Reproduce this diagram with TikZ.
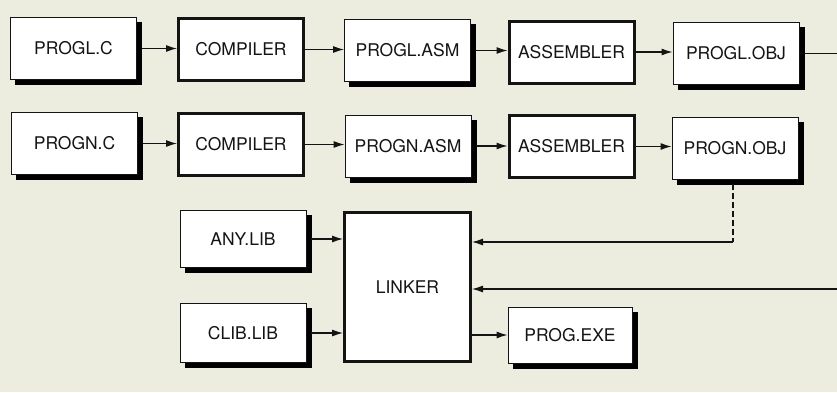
\documentclass[tikz,border=0pt]{standalone}
\usepackage{fontspec}
\setmainfont{TeX Gyre Heros}
\usetikzlibrary{positioning, arrows.meta}
\definecolor{paper}{RGB}{237,237,223}
\definecolor{ink}{RGB}{20,20,20}
\tikzset{
  boxsize/.style={minimum width=126pt, minimum height=62pt, inner sep=0pt},
  filebox/.style={boxsize, draw=ink, line width=0.9pt, fill=white, text=ink, font=\fontsize{17.5}{20}\selectfont},
  shadowbox/.style={boxsize, draw=black, line width=0.9pt, fill=black},
  toolbox/.style={boxsize, draw=ink, line width=3pt, fill=white, minimum width=125pt,
    text=ink, font=\fontsize{17.5}{20}\selectfont},
  link/.style={draw=ink, line width=1.1pt},
  flow/.style={link, -{Latex[length=11pt, width=7pt]}},
}
% file box with its shadow: [size options]{name}{x}{y}{text}
\newcommand{\filenode}[5][]{%
  \node[shadowbox, #1] (#2-sh) at (#3+5, #4+5) {};
  \node[filebox, #1] (#2) at (#3, #4) {#5};
}

\begin{document}
\begin{tikzpicture}[x=1pt, y=-1pt]

% ============================================================ canvas
\fill[paper] (0,0) rectangle (837,392);
\useasboundingbox (0,0) rectangle (837,392);

% ============================================================ row 1: PROGL
\filenode{srcl}{73.5}{48.5}{PROGL.C}
\node[toolbox] (compl) at (241, 49.5) {COMPILER};
\filenode{asml}{407.5}{50.5}{PROGL.ASM}
\node[toolbox] (asmbl) at (571.5, 52) {ASSEMBLER};
\filenode{objl}{736}{53.5}{PROGL.OBJ}

% ============================================================ row 2: PROGN
\filenode{srcn}{74.5}{143.5}{PROGN.C}
\node[toolbox] (compn) at (241, 144.5) {COMPILER};
\filenode{asmn}{408}{146}{PROGN.ASM}
\node[toolbox] (asmbn) at (571.5, 146.5) {ASSEMBLER};
\filenode{objn}{735}{148}{PROGN.OBJ}

% ============================================================ link stage
\filenode[minimum height=57pt]{anylib}{243}{239}{ANY.LIB}
\filenode[minimum height=59pt]{clib}{243}{333}{CLIB.LIB}
\node[toolbox, minimum width=126pt, minimum height=149pt] (linker) at (407.5, 287) {LINKER};
\filenode[minimum width=124pt, minimum height=56pt]{exe}{570}{335}{PROG.EXE}

% ============================================================ connectors
\draw[flow] (srcl-sh.east |- srcl.east) -- (srcl.east -| compl.west);
\draw[flow] (compl.east) -- (compl.east -| asml.west);
\draw[flow] (asml-sh.east |- asml.east) -- (asml.east -| asmbl.west);
\draw[flow] (asmbl.east) -- (asmbl.east -| objl.west);

\draw[flow] (srcn-sh.east |- srcn.east) -- (srcn.east -| compn.west);
\draw[flow] (compn.east) -- (compn.east -| asmn.west);
\draw[flow] (asmn-sh.east |- asmn.east) -- (asmn.east -| asmbn.west);
\draw[flow] (asmbn.east) -- (asmbn.east -| objn.west);

\draw[flow] (anylib-sh.east |- anylib.east) -- (anylib.east -| linker.west);
\draw[flow] (clib-sh.east |- clib.east) -- (clib.east -| linker.west);
\draw[flow] (linker.east |- exe.west) -- (exe.west);

% object files into the linker (the return path runs off the right edge)
\coordinate (drop)  at (733, 242);
\coordinate (rimhi) at (837, 53.5);
\coordinate (rimlo) at (837, 289);
\draw[link, dash pattern=on 6pt off 3pt] (objn-sh.south -| drop) -- (drop);
\draw[flow] (drop) -- (linker.east |- drop);
\draw[link] (objl-sh.east |- objl.east) -- (rimhi);
\draw[flow] (rimlo) -- (linker.east |- rimlo);

\end{tikzpicture}
\end{document}
